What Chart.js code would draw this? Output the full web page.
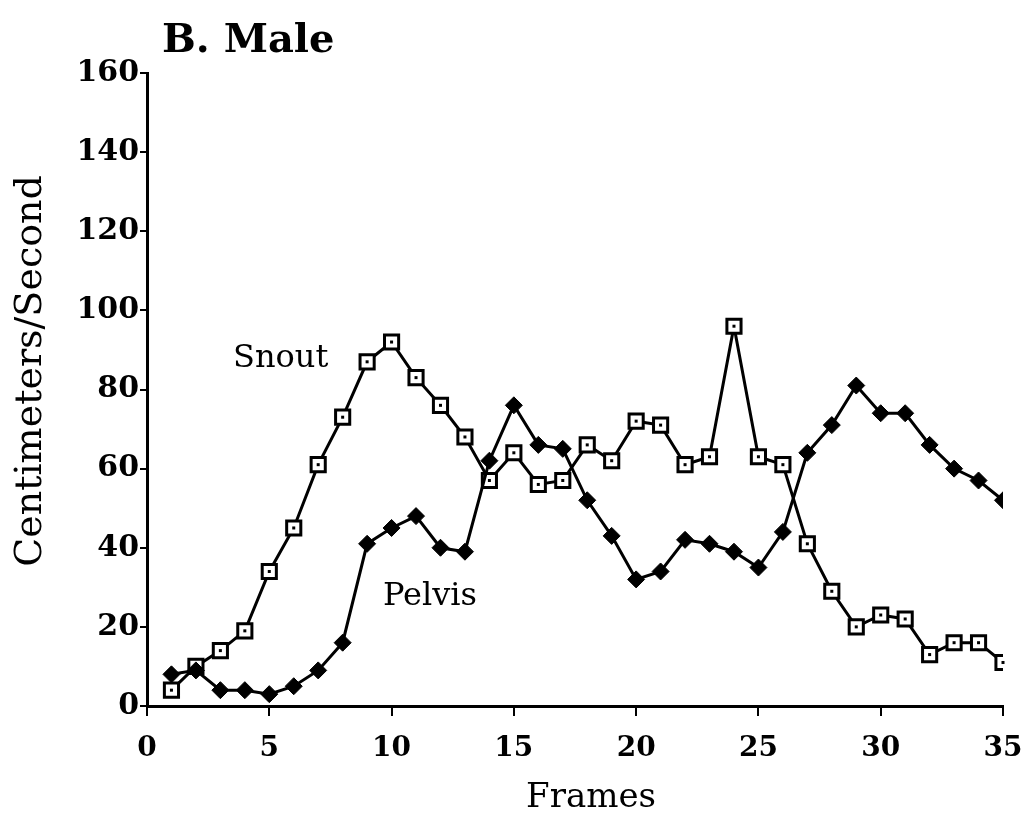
<!DOCTYPE html>
<html>
<head>
<meta charset="utf-8">
<script src="https://cdn.jsdelivr.net/npm/chart.js@4/dist/chart.umd.min.js"></script>
<style>
  html, body { margin: 0; padding: 0; background: #fff; }
  #wrap { width: 1029px; height: 820px; }
</style>
</head>
<body>
<div id="wrap"><canvas id="chart" width="1029" height="820"></canvas></div>
<script>
// frame numbers and speeds
const frames = [1, 2, 3, 4, 5, 6, 7, 8, 9, 10, 11, 12, 13, 14, 15, 16, 17, 18,
    19, 20, 21, 22, 23, 24, 25, 26, 27, 28, 29, 30, 31, 32, 33, 34, 35];
const snout = [4, 10, 14, 19, 34, 45, 61, 73, 87, 92, 83, 76, 68, 57, 64, 56, 57, 66,
    62, 72, 71, 61, 63, 96, 63, 61, 41, 29, 20, 23, 22, 13, 16, 16, 11];
const pelvis = [8, 9, 4, 4, 3, 5, 9, 16, 41, 45, 48, 40, 39, 62, 76, 66, 65, 52,
    43, 32, 34, 42, 41, 39, 35, 44, 64, 71, 81, 74, 74, 66, 60, 57, 52];
const xTicks = [0, 5, 10, 15, 20, 25, 30, 35];
const yTicks = [0, 20, 40, 60, 80, 100, 120, 140, 160];

const SERIF = '"DejaVu Serif", "Liberation Serif", serif';

const toPoints = arr => frames.map((f, i) => ({ x: f, y: arr[i] }));

// text that sits on the figure: heading, axis names, series labels
const textPlugin = {
    id: 'figureText',
    afterDatasetsDraw(chart) {
        const ctx = chart.ctx;
        // little dot in the middle of each snout square
        const meta = chart.getDatasetMeta(1);
        ctx.save();
        ctx.fillStyle = '#000';
        meta.data.forEach(p => ctx.fillRect(p.x - 1.5, p.y - 1.5, 3, 3));
        ctx.restore();
    },
    afterDraw(chart) {
        const ctx = chart.ctx;
        ctx.save();
        ctx.fillStyle = '#000';
        ctx.textBaseline = 'alphabetic';
        ctx.textAlign = 'left';
        ctx.font = 'bold 40px ' + SERIF;
        ctx.fillText('B. Male', 162, 52);

        ctx.font = '32px ' + SERIF;
        ctx.fillText('Snout', 233, 367);
        ctx.fillText('Pelvis', 383, 605);

        ctx.textAlign = 'center';
        ctx.textBaseline = 'middle';
        ctx.font = '34px ' + SERIF;
        ctx.fillText('Frames', 591, 798);

        ctx.translate(31, 371);
        ctx.rotate(-Math.PI / 2);
        ctx.font = '38px ' + SERIF;
        ctx.fillText('Centimeters/Second', 0, 0);
        ctx.restore();
    }
};

new Chart(document.getElementById('chart'), {
    type: 'line',
    data: {
        datasets: [{
            label: 'Pelvis',
            data: toPoints(pelvis),
            borderColor: '#000',
            borderWidth: 3,
            pointStyle: 'rectRot',
            pointRadius: 8.5,
            pointBackgroundColor: '#000',
            pointBorderColor: '#000',
            pointBorderWidth: 1,
            tension: 0
        }, {
            label: 'Snout',
            data: toPoints(snout),
            borderColor: '#000',
            borderWidth: 3,
            pointStyle: 'rect',
            pointRadius: 10,
            pointBackgroundColor: '#fff',
            pointBorderColor: '#000',
            pointBorderWidth: 3,
            tension: 0
        }]
    },
    options: {
        responsive: false,
        animation: false,
        events: [],
        layout: { padding: { top: 73, right: 26, left: 0, bottom: 0 } },
        plugins: {
            legend: { display: false },
            tooltip: { enabled: false }
        },
        scales: {
            x: {
                type: 'linear',
                min: 0,
                max: 35,
                afterBuildTicks: s => { s.ticks = xTicks.map(v => ({ value: v })); },
                afterFit: s => { s.height = 114; s.paddingRight = 0; s.paddingLeft = 0; },
                border: { display: true, color: '#000', width: 3 },
                grid: { display: true, drawOnChartArea: false, color: '#000', lineWidth: 2, tickLength: 10 },
                ticks: {
                    color: '#000',
                    padding: 16,
                    maxRotation: 0,
                    font: { family: SERIF, size: 28, weight: 'bold' }
                }
            },
            y: {
                type: 'linear',
                min: 0,
                max: 160,
                afterBuildTicks: s => { s.ticks = yTicks.map(v => ({ value: v })); },
                afterFit: s => { s.width = 147; },
                border: { display: true, color: '#000', width: 3 },
                grid: { display: true, drawOnChartArea: false, color: '#000', lineWidth: 2, tickLength: 7 },
                ticks: {
                    color: '#000',
                    padding: 1,
                    font: { family: SERIF, size: 30, weight: 'bold' }
                }
            }
        }
    },
    plugins: [textPlugin]
});
</script>
</body>
</html>
